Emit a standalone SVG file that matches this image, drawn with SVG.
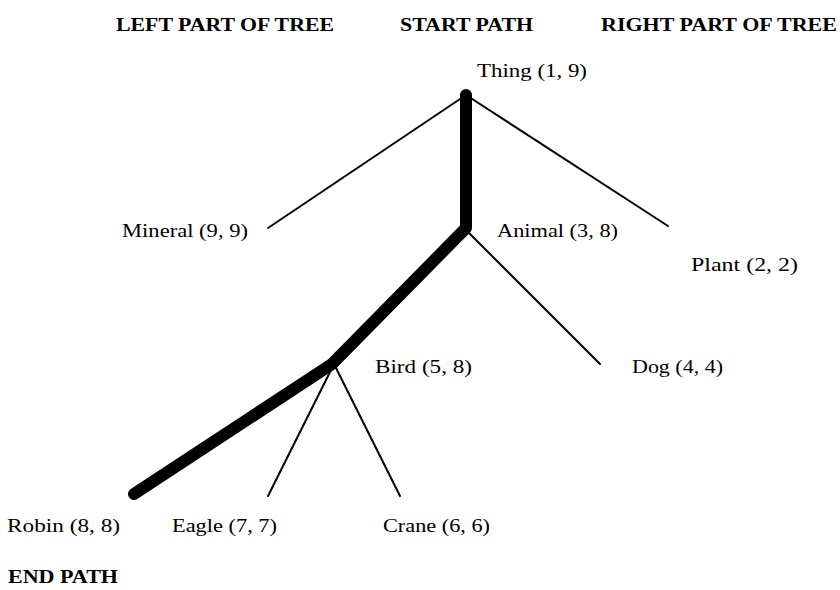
<svg xmlns="http://www.w3.org/2000/svg" width="840" height="590" viewBox="0 0 840 590">
<style>
.lbl{font-family:"Liberation Serif","Times New Roman",serif;font-size:19px;fill:#000}
.hdr{font-family:"Liberation Serif","Times New Roman",serif;font-size:18px;font-weight:bold;fill:#000}
.thin{stroke:#000;stroke-width:2;fill:none;stroke-linecap:round}
.thick{stroke:#000;stroke-width:12;fill:none;stroke-linecap:round;stroke-linejoin:round}
</style>
<rect width="840" height="590" fill="#fff"/>
<g id="headers">
<text class="hdr" x="116" y="31" textLength="218" lengthAdjust="spacingAndGlyphs">LEFT PART OF TREE</text>
<text class="hdr" x="400" y="31" textLength="133" lengthAdjust="spacingAndGlyphs">START PATH</text>
<text class="hdr" x="601" y="31" textLength="236" lengthAdjust="spacingAndGlyphs">RIGHT PART OF TREE</text>
<text class="hdr" x="8" y="583" textLength="110" lengthAdjust="spacingAndGlyphs">END PATH</text>
</g>
<g id="connectors">
<path class="thin" d="M466,95 L268,228"/>
<path class="thin" d="M466,95 L668,226"/>
<path class="thin" d="M466,230 L600,364"/>
<path class="thin" d="M334,364 L268,496"/>
<path class="thin" d="M334,364 L400,496"/>
<path class="thick" d="M466,95 L466,228 L332,364 L134,494"/>
</g>
<g id="thing"><text class="lbl" x="477" y="77" textLength="110" lengthAdjust="spacingAndGlyphs">Thing (1, 9)</text></g>
<g id="mineral"><text class="lbl" x="122" y="237" textLength="126" lengthAdjust="spacingAndGlyphs">Mineral (9, 9)</text></g>
<g id="animal"><text class="lbl" x="497" y="237" textLength="121" lengthAdjust="spacingAndGlyphs">Animal (3, 8)</text></g>
<g id="plant"><text class="lbl" x="691" y="271" textLength="107" lengthAdjust="spacingAndGlyphs">Plant (2, 2)</text></g>
<g id="bird"><text class="lbl" x="375" y="373" textLength="97" lengthAdjust="spacingAndGlyphs">Bird (5, 8)</text></g>
<g id="dog"><text class="lbl" x="632" y="373" textLength="91" lengthAdjust="spacingAndGlyphs">Dog (4, 4)</text></g>
<g id="robin"><text class="lbl" x="7" y="532" textLength="113" lengthAdjust="spacingAndGlyphs">Robin (8, 8)</text></g>
<g id="eagle"><text class="lbl" x="172" y="532" textLength="105" lengthAdjust="spacingAndGlyphs">Eagle (7, 7)</text></g>
<g id="crane"><text class="lbl" x="383" y="532" textLength="107" lengthAdjust="spacingAndGlyphs">Crane (6, 6)</text></g>
</svg>
